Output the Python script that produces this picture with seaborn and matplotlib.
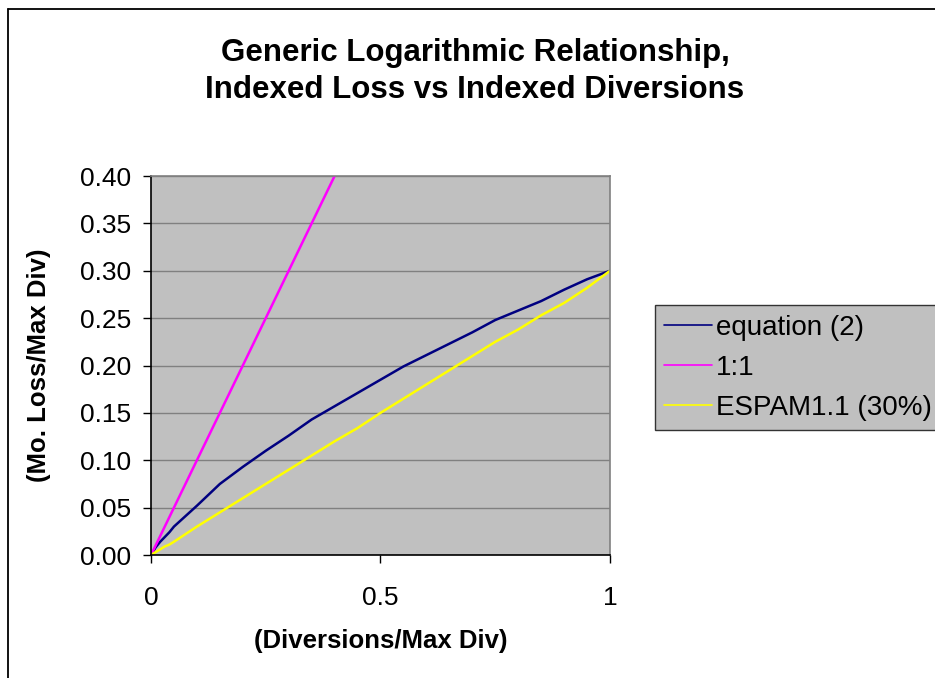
import matplotlib
matplotlib.use('Agg')
import matplotlib.pyplot as plt
import seaborn as sns
import pandas as pd
from matplotlib.lines import Line2D

# indexed diversions (x) and indexed loss for each series
div_idx = [0, 0.01, 0.02, 0.03, 0.04, 0.05, 0.1, 0.15, 0.2, 0.25, 0.3, 0.35, 0.4,
           0.45, 0.5, 0.55, 0.6, 0.65, 0.7, 0.75, 0.8, 0.85, 0.9, 0.95, 1.0]
eq2_loss = [0, 0.008, 0.014, 0.019, 0.024, 0.03, 0.052, 0.075, 0.093, 0.11, 0.126,
            0.143, 0.157, 0.171, 0.185, 0.199, 0.211, 0.223, 0.235, 0.248, 0.258,
            0.268, 0.28, 0.291, 0.3]
one_to_one = [0, 0.01, 0.02, 0.03, 0.04, 0.05, 0.1, 0.15, 0.2, 0.25, 0.3, 0.35, 0.4,
              0.45, 0.5, 0.55, 0.6, 0.65, 0.7, 0.75, 0.8, 0.85, 0.9, 0.95, 1.0]
espam_loss = [0, 0.003, 0.006, 0.009, 0.011, 0.014, 0.03, 0.045, 0.06, 0.075, 0.09,
              0.105, 0.12, 0.134, 0.15, 0.165, 0.18, 0.195, 0.21, 0.225, 0.238,
              0.253, 0.266, 0.282, 0.3]

series_names = ['equation (2)', '1:1', 'ESPAM1.1 (30%)']
series_colors = ['#000080', '#FF00FF', '#FFFF00']

df = pd.DataFrame({
    'x': div_idx * 3,
    'y': eq2_loss + one_to_one + espam_loss,
    'series': [series_names[0]] * len(div_idx) + [series_names[1]] * len(div_idx)
              + [series_names[2]] * len(div_idx),
})

sns.set_style('ticks')
plt.rcParams['font.family'] = ['Liberation Sans', 'DejaVu Sans']
plt.rcParams['text.color'] = 'black'
plt.rcParams['axes.labelcolor'] = 'black'
plt.rcParams['xtick.color'] = 'black'
plt.rcParams['ytick.color'] = 'black'

fig = plt.figure(figsize=(9.35, 6.78), dpi=100)
ax = fig.add_axes([0.1615, 0.1814, 0.4909, 0.559])
ax.set_facecolor('#C0C0C0')

sns.lineplot(data=df, x='x', y='y', hue='series', palette=series_colors,
             hue_order=series_names, ax=ax, linewidth=1.8, sort=False)

ax.set_xlim(0, 1)
ax.set_ylim(0, 0.40)
ax.set_xticks([0, 0.5, 1])
ax.set_xticklabels(['0', '0.5', '1'])
ax.set_yticks([i * 0.05 for i in range(9)])
ax.set_yticklabels([f'{i * 0.05:.2f}' for i in range(9)])
ax.tick_params(axis='both', labelsize=19, direction='out', length=6, color='black', width=1)
ax.tick_params(axis='x', pad=16)
ax.tick_params(axis='y', pad=8)
ax.yaxis.grid(True, color='#808080', linewidth=1)
ax.set_axisbelow(True)

for s in ['top', 'right']:
    ax.spines[s].set_visible(True)
    ax.spines[s].set_color('#808080')
    ax.spines[s].set_linewidth(1.2)
for s in ['left', 'bottom']:
    ax.spines[s].set_color('black')
    ax.spines[s].set_linewidth(1.2)

ax.set_xlabel('(Diversions/Max Div)', fontsize=18.5, fontweight='bold')
ax.set_ylabel('(Mo. Loss/Max Div)', fontsize=18.5, fontweight='bold')
ax.xaxis.set_label_coords(0.5, -0.195)
ax.yaxis.set_label_coords(-0.218, 0.5)

fig.text(0.508, 0.8945, 'Generic Logarithmic Relationship,\nIndexed Loss vs Indexed Diversions',
         ha='center', va='center', fontsize=22.5, fontweight='bold', linespacing=1.3)

ax.get_legend().remove()
handles, labels = ax.get_legend_handles_labels()
leg = fig.legend(handles, labels, loc='lower left', bbox_to_anchor=(0.7005, 0.3658),
                 frameon=True, fancybox=False, fontsize=20, handlelength=1.7,
                 handletextpad=0.15, borderpad=0.34, labelspacing=0.5, borderaxespad=0)
leg.get_frame().set_facecolor('#C0C0C0')
leg.get_frame().set_edgecolor('#333333')
leg.get_frame().set_linewidth(1)
leg.get_frame().set_alpha(1)
for h in leg.get_lines():
    h.set_linewidth(1.2)

# chart area border (only left and top edges fall inside the image)
fx = 7.5 / 935
fy = 1 - 8.5 / 678
fig.add_artist(Line2D([fx, fx], [0, fy], transform=fig.transFigure, color='black', linewidth=1.3))
fig.add_artist(Line2D([fx, 1], [fy, fy], transform=fig.transFigure, color='black', linewidth=1.3))

fig.savefig('out.png', dpi=100, facecolor='white')
